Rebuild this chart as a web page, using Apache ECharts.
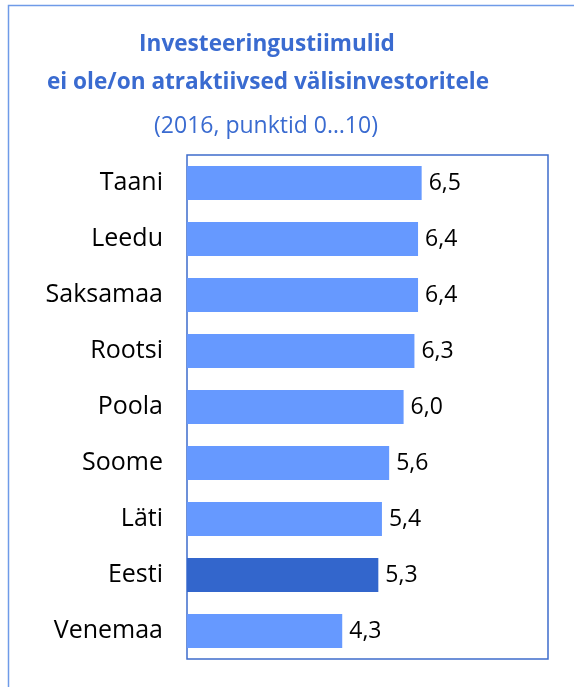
<!DOCTYPE html>
<html>
<head>
<meta charset="utf-8">
<script src="https://cdn.jsdelivr.net/npm/echarts@6/dist/echarts.min.js"></script>
<style>
  html, body { margin: 0; padding: 0; background: #fff; }
  #chart { width: 574px; height: 687px; }
</style>
</head>
<body>
<div id="chart"></div>
<script>
const riigid = ['Taani', 'Leedu', 'Saksamaa', 'Rootsi', 'Poola', 'Soome', 'Läti', 'Eesti', 'Venemaa'];
const punktid = [6.5, 6.4, 6.4, 6.3, 6.0, 5.6, 5.4, 5.3, 4.3];
const esiletoodud = 'Eesti';

const FONT = '"Open Sans"';
const chart = echarts.init(document.getElementById('chart'));

chart.setOption({
  animation: false,
  graphic: [
    { type: 'rect', shape: { x: 8.5, y: 5.5, width: 620, height: 700 },
      style: { fill: 'none', stroke: '#6f9be8', lineWidth: 1.5 } },
    { type: 'text', x: 267, y: 45, style: { text: 'Investeeringustiimulid', align: 'center', verticalAlign: 'middle',
      fill: '#3a6bd0', font: 'bold 22.6px ' + FONT } },
    { type: 'text', x: 268, y: 83, style: { text: 'ei ole/on atraktiivsed välisinvestoritele', align: 'center', verticalAlign: 'middle',
      fill: '#3a6bd0', font: 'bold 22.6px ' + FONT } },
    { type: 'text', x: 266, y: 126, style: { text: '(2016, punktid 0…10)', align: 'center', verticalAlign: 'middle',
      fill: '#3a6bd0', font: '23px ' + FONT } }
  ],
  grid: { left: 187, top: 155, width: 361, height: 504, show: true, borderColor: '#3e6ccc', borderWidth: 1.5, backgroundColor: '#fff' },
  xAxis: { type: 'value', min: 0, max: 10, show: false },
  yAxis: {
    type: 'category', data: riigid, inverse: true,
    axisLine: { show: false }, axisTick: { show: false },
    axisLabel: { color: '#000', fontFamily: FONT, fontSize: 25, margin: 24 }
  },
  series: [{
    type: 'bar', barWidth: 34,
    data: punktid.map((v, i) => ({
      value: v,
      itemStyle: { color: riigid[i] === esiletoodud ? '#3366cc' : '#6699ff' }
    })),
    label: {
      show: true, position: 'right', distance: 7, color: '#000', fontFamily: FONT, fontSize: 23,
      formatter: p => p.value.toFixed(1).replace('.', ',')
    }
  }]
});
</script>
</body>
</html>
